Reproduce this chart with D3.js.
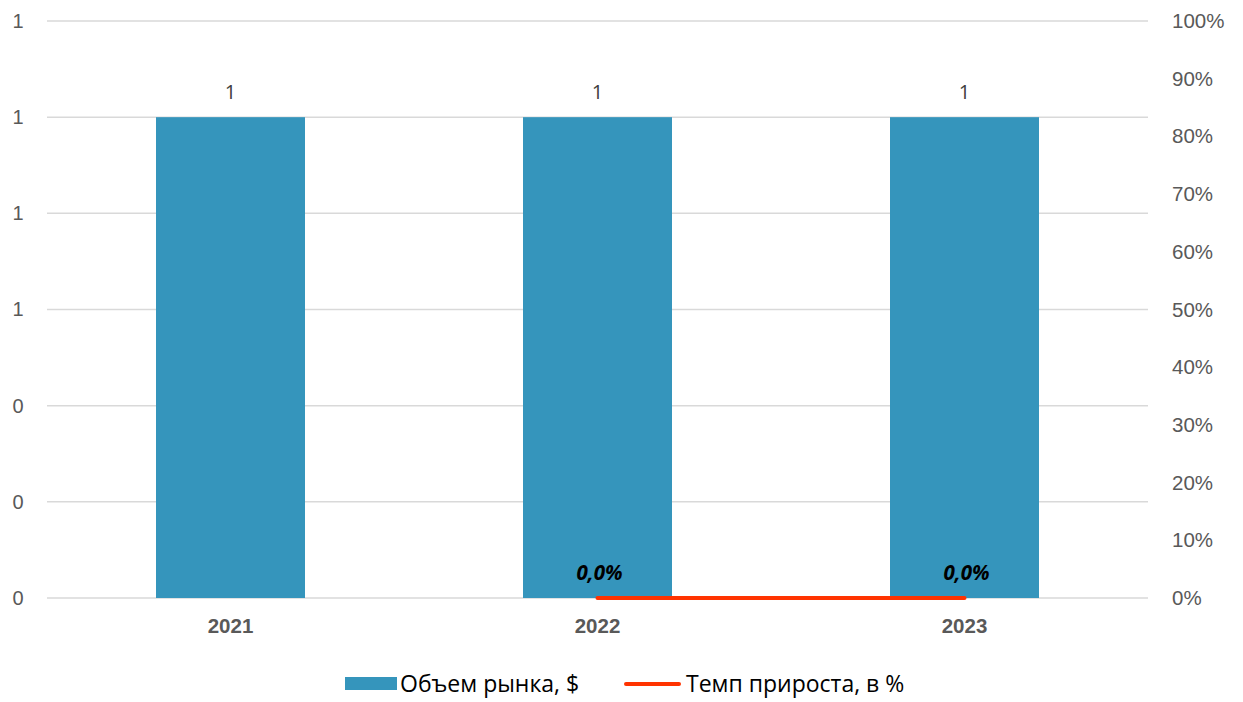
<!DOCTYPE html>
<html>
<head>
<meta charset="utf-8">
<script src="https://cdn.jsdelivr.net/npm/d3@7"></script>
<style>
  body { margin: 0; background: #fff; }
  svg { font-family: "Open Sans", "Noto Sans", sans-serif; }
</style>
</head>
<body>
<div id="chart"></div>
<script>
// chart data
const years = ["2021", "2022", "2023"];
const marketVolume = [1, 1, 1];
const growthRate = [null, 0, 0];
const leftTicks = [0, 0.2, 0.4, 0.6, 0.8, 1.0, 1.2];
const rightTicks = [0, 0.1, 0.2, 0.3, 0.4, 0.5, 0.6, 0.7, 0.8, 0.9, 1.0];
const seriesNames = ["Объем рынка, $", "Темп прироста, в %"];

const width = 1243, height = 702;
const margin = { top: 21, right: 95, bottom: 104, left: 47 };
const barColor = "#3595BC";
const lineColor = "#FF3300";

const svg = d3.select("#chart").append("svg")
    .attr("width", width)
    .attr("height", height);

const x = d3.scaleBand()
    .domain(years)
    .range([margin.left, width - margin.right])
    .paddingInner(0.594)
    .paddingOuter(0.297);

const yLeft = d3.scaleLinear()
    .domain([0, 1.2])
    .range([height - margin.bottom, margin.top]);

const yRight = d3.scaleLinear()
    .domain([0, 1])
    .range([height - margin.bottom, margin.top]);

// gridlines
svg.append("g")
    .selectAll("line")
    .data(leftTicks)
    .join("line")
        .attr("x1", margin.left)
        .attr("x2", width - margin.right)
        .attr("y1", d => yLeft(d))
        .attr("y2", d => yLeft(d))
        .attr("stroke", "#d9d9d9")
        .attr("stroke-width", 1.5);

// left axis labels
const leftAxis = svg.append("g")
    .attr("transform", `translate(${margin.left},0)`)
    .call(d3.axisLeft(yLeft).tickValues(leftTicks).tickFormat(d3.format(".0f")).tickSize(0).tickPadding(29));
leftAxis.select(".domain").remove();
leftAxis.selectAll("text")
    .attr("text-anchor", "middle")
    .attr("fill", "#595959")
    .attr("font-size", "20px");

// right axis labels
const rightAxis = svg.append("g")
    .attr("transform", `translate(${width - margin.right},0)`)
    .call(d3.axisRight(yRight).tickValues(rightTicks).tickFormat(d3.format(".0%")).tickSize(0).tickPadding(24));
rightAxis.select(".domain").remove();
rightAxis.selectAll("text")
    .attr("fill", "#595959")
    .attr("font-size", "20.5px");

// bars
svg.append("g")
    .selectAll("rect")
    .data(marketVolume)
    .join("rect")
        .attr("x", (d, i) => x(years[i]))
        .attr("y", d => yLeft(d))
        .attr("width", x.bandwidth())
        .attr("height", d => yLeft(0) - yLeft(d))
        .attr("fill", barColor);

// bar labels
svg.append("g")
    .selectAll("text")
    .data(marketVolume)
    .join("text")
        .attr("x", (d, i) => x(years[i]) + x.bandwidth() / 2)
        .attr("y", d => yLeft(d) - 18)
        .attr("text-anchor", "middle")
        .attr("fill", "#404040")
        .attr("font-size", "20px")
        .text(d => d3.format(".0f")(d));

// category labels
const xAxis = svg.append("g")
    .attr("transform", `translate(0,${height - margin.bottom})`)
    .call(d3.axisBottom(x).tickSize(0).tickPadding(20));
xAxis.select(".domain").remove();
xAxis.selectAll("text")
    .attr("fill", "#595959")
    .attr("font-size", "20.5px")
    .attr("font-weight", "bold");

// growth line
const cx = i => x(years[i]) + x.bandwidth() / 2;
const linePts = growthRate.map((d, i) => ({ i, d })).filter(p => p.d !== null);
svg.append("path")
    .datum(linePts)
    .attr("fill", "none")
    .attr("stroke", lineColor)
    .attr("stroke-width", 4)
    .attr("stroke-linecap", "round")
    .attr("d", d3.line().x(p => cx(p.i)).y(p => yRight(p.d)));

svg.append("g")
    .selectAll("text")
    .data(linePts)
    .join("text")
        .attr("x", p => cx(p.i) + 2)
        .attr("y", p => yRight(p.d) - 18)
        .attr("text-anchor", "middle")
        .attr("font-size", "20.5px")
        .attr("font-weight", "bold")
        .attr("font-style", "italic")
        .attr("fill", "#000")
        .text(p => d3.format(".1%")(p.d).replace(".", ","));

// legend
const legend = svg.append("g").attr("transform", "translate(0,684)");
legend.append("rect")
    .attr("x", 345).attr("y", -7)
    .attr("width", 52).attr("height", 13)
    .attr("fill", barColor);
legend.append("text")
    .attr("x", 400).attr("y", 0).attr("dy", "0.35em")
    .attr("font-size", "23px").attr("fill", "#000")
    .text(seriesNames[0]);
legend.append("line")
    .attr("x1", 626).attr("x2", 679)
    .attr("y1", 0).attr("y2", 0)
    .attr("stroke", lineColor).attr("stroke-width", 4)
    .attr("stroke-linecap", "round");
legend.append("text")
    .attr("x", 686).attr("y", 0).attr("dy", "0.35em")
    .attr("font-size", "23px").attr("fill", "#000")
    .text(seriesNames[1]);
</script>
</body>
</html>
